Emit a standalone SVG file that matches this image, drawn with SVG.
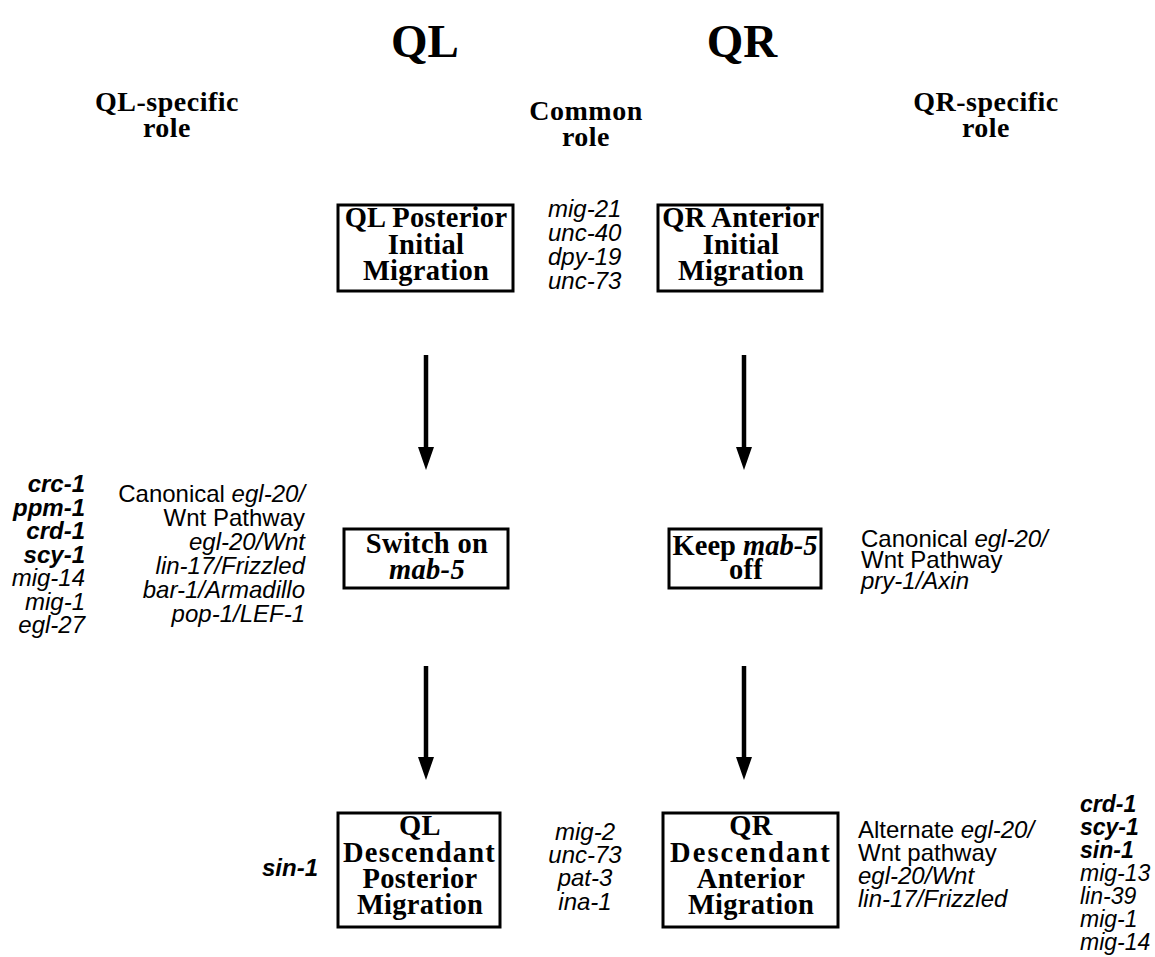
<svg xmlns="http://www.w3.org/2000/svg" width="1155" height="957" viewBox="0 0 1155 957">
<style>
.t{font-family:"Liberation Serif",serif;font-weight:bold;fill:#000}
.title{font-size:47px}
.hd{font-size:28px;letter-spacing:0.5px}
.bx{font-size:28.5px;letter-spacing:0.3px}
.s{font-family:"Liberation Sans",Arial,sans-serif;font-size:24px;fill:#000}
.r{font-size:23px}
.i{font-style:italic}
.b{font-weight:bold}
.n{font-weight:normal}
.box{fill:#fff;stroke:#000;stroke-width:3}
.arr{stroke:#000;stroke-width:4.5;fill:none}
.head{fill:#000}
</style>
<rect width="1155" height="957" fill="#fff"/>

<g id="titles">
<text class="t title" x="425" y="57" text-anchor="middle">QL</text>
<text class="t title" x="742" y="57" text-anchor="middle">QR</text>
<text class="t hd" text-anchor="middle"><tspan x="167" y="111">QL-specific</tspan><tspan x="167" y="137">role</tspan></text>
<text class="t hd" text-anchor="middle"><tspan x="586" y="120">Common</tspan><tspan x="586" y="146">role</tspan></text>
<text class="t hd" text-anchor="middle"><tspan x="986" y="111">QR-specific</tspan><tspan x="986" y="137">role</tspan></text>
</g>

<g id="connectors">
<line class="arr" x1="426" y1="355" x2="426" y2="452"/>
<polygon class="head" points="418,447 434,447 426,470"/>
<line class="arr" x1="744" y1="355" x2="744" y2="452"/>
<polygon class="head" points="736,447 752,447 744,470"/>
<line class="arr" x1="426" y1="666" x2="426" y2="762"/>
<polygon class="head" points="418,757 434,757 426,780"/>
<line class="arr" x1="744" y1="666" x2="744" y2="762"/>
<polygon class="head" points="736,757 752,757 744,780"/>
</g>

<g id="ql-initial">
<rect class="box" x="338" y="205" width="175" height="86"/>
<text class="t bx" text-anchor="middle"><tspan x="426" y="227">QL Posterior</tspan><tspan x="426" y="254">Initial</tspan><tspan x="426" y="280">Migration</tspan></text>
</g>

<g id="common-initial">
<text class="s i"><tspan x="548" y="217">mig-21</tspan><tspan x="548" y="241">unc-40</tspan><tspan x="548" y="265">dpy-19</tspan><tspan x="548" y="289">unc-73</tspan></text>
</g>

<g id="qr-initial">
<rect class="box" x="658" y="205" width="164" height="86"/>
<text class="t bx" text-anchor="middle"><tspan x="741" y="227">QR Anterior</tspan><tspan x="741" y="254">Initial</tspan><tspan x="741" y="280">Migration</tspan></text>
</g>

<g id="ql-specific-genes">
<text class="s i" text-anchor="end"><tspan class="b" x="85" y="492">crc-1</tspan><tspan class="b" x="85" y="515.5">ppm-1</tspan><tspan class="b" x="85" y="539">crd-1</tspan><tspan class="b" x="85" y="562.5">scy-1</tspan><tspan x="85" y="586">mig-14</tspan><tspan x="85" y="609.5">mig-1</tspan><tspan x="85" y="633">egl-27</tspan></text>
</g>

<g id="ql-wnt">
<text class="s" text-anchor="end"><tspan x="305" y="502">Canonical <tspan class="i">egl-20/</tspan></tspan><tspan x="305" y="526">Wnt Pathway</tspan><tspan class="i" x="305" y="550">egl-20/Wnt</tspan><tspan class="i" x="305" y="574">lin-17/Frizzled</tspan><tspan class="i" x="305" y="598">bar-1/Armadillo</tspan><tspan class="i" x="305" y="622">pop-1/LEF-1</tspan></text>
</g>

<g id="switch-on">
<rect class="box" x="344" y="529" width="164" height="59"/>
<text class="t bx" text-anchor="middle"><tspan x="427" y="553">Switch on</tspan><tspan class="i" x="427" y="579">mab-5</tspan></text>
</g>

<g id="keep-off">
<rect class="box" x="669" y="529" width="152" height="59"/>
<text class="t bx" text-anchor="middle"><tspan x="745" y="555" letter-spacing="0">Keep <tspan class="i">mab-5</tspan></tspan><tspan x="746" y="579">off</tspan></text>
</g>

<g id="qr-wnt">
<text class="s"><tspan x="861" y="547">Canonical <tspan class="i">egl-20/</tspan></tspan><tspan x="861" y="568">Wnt Pathway</tspan><tspan class="i" x="861" y="589">pry-1/Axin</tspan></text>
</g>

<g id="ql-descendant-genes">
<text class="s i b" x="290" y="876" text-anchor="middle">sin-1</text>
</g>

<g id="ql-descendant">
<rect class="box" x="338" y="813" width="162" height="114"/>
<text class="t bx" text-anchor="middle"><tspan x="420" y="835">QL</tspan><tspan x="419" y="862" textLength="152">Descendant</tspan><tspan x="420" y="888">Posterior</tspan><tspan x="420" y="914">Migration</tspan></text>
</g>

<g id="common-descendant">
<text class="s i" text-anchor="middle"><tspan x="585" y="840">mig-2</tspan><tspan x="585" y="863">unc-73</tspan><tspan x="585" y="886">pat-3</tspan><tspan x="585" y="910">ina-1</tspan></text>
</g>

<g id="qr-descendant">
<rect class="box" x="663" y="813" width="175" height="114"/>
<text class="t bx" text-anchor="middle"><tspan x="751" y="835">QR</tspan><tspan x="750" y="862" textLength="160">Descendant</tspan><tspan x="751" y="888">Anterior</tspan><tspan x="751" y="914">Migration</tspan></text>
</g>

<g id="qr-alt-wnt">
<text class="s"><tspan x="858" y="838">Alternate <tspan class="i">egl-20/</tspan></tspan><tspan x="858" y="861">Wnt pathway</tspan><tspan class="i" x="858" y="884">egl-20/Wnt</tspan><tspan class="i" x="858" y="907">lin-17/Frizzled</tspan></text>
</g>

<g id="qr-specific-genes">
<text class="s r i"><tspan class="b" x="1080" y="812">crd-1</tspan><tspan class="b" x="1080" y="835">scy-1</tspan><tspan class="b" x="1080" y="858">sin-1</tspan><tspan x="1080" y="881">mig-13</tspan><tspan x="1080" y="904">lin-39</tspan><tspan x="1080" y="927">mig-1</tspan><tspan x="1080" y="950">mig-14</tspan></text>
</g>
</svg>
